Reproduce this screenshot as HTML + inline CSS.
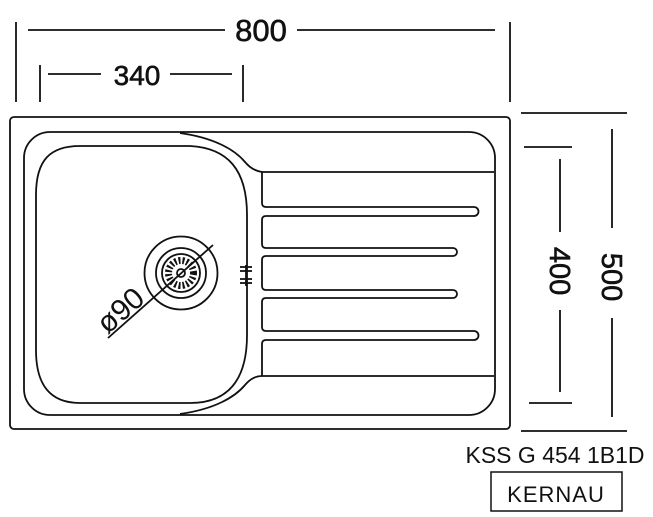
<!DOCTYPE html>
<html><head><style>
html,body{margin:0;padding:0;background:#fff;}
svg{display:block;}
text{font-family:"Liberation Sans",sans-serif;fill:#111;}
</style></head><body>
<svg width="653" height="517" viewBox="0 0 653 517" xmlns="http://www.w3.org/2000/svg">
<g stroke="#111" stroke-width="1.8" fill="none">
<line x1="16" y1="22" x2="16" y2="102"/>
<line x1="510" y1="22" x2="510" y2="102"/>
<line x1="28" y1="30" x2="225" y2="30"/>
<line x1="297" y1="30" x2="495" y2="30"/>
<line x1="40" y1="65" x2="40" y2="102"/>
<line x1="243" y1="65" x2="243" y2="102"/>
<line x1="48" y1="74" x2="101" y2="74"/>
<line x1="170" y1="74" x2="232" y2="74"/>
<line x1="521" y1="113" x2="627" y2="113"/>
<line x1="521" y1="431" x2="627" y2="431"/>
<line x1="524" y1="147" x2="572" y2="147"/>
<line x1="529" y1="403" x2="572" y2="403"/>
<line x1="560" y1="159" x2="560" y2="232"/>
<line x1="560" y1="310" x2="560" y2="392"/>
<line x1="612" y1="129" x2="612" y2="228"/>
<line x1="612" y1="318" x2="612" y2="417"/>
<rect x="10" y="117" width="500" height="312" rx="4"/>
<rect x="24" y="132" width="471" height="283" rx="26"/>
<path d="M180 133 C215 138 235 150 245 162 C250 168 255 171 262 172 L494 172"/>
<path d="M180 414 C215 409 235 397 245 385 C250 379 255 376 262 376 L494 376"/>
<path d="M80 146 L190 146 C228 148 247 170 247 215 L247 335 C247 380 228 403 190 403 L80 403 C50 403 36 385 36 350 L36 195 C36 160 50 146 80 146 Z"/>
<path d="M262 172 L262 203 Q262 207 266 207 L474 207 A4.5 4.5 0 0 1 474 216 L266 216 Q262 216 262 220 L262 244 Q262 248 266 248 L453 248 A4 4 0 0 1 453 256 L266 256 Q262 256 262 260 L262 286 Q262 290 266 290 L453 290 A4 4 0 0 1 453 298 L266 298 Q262 298 262 302 L262 327 Q262 331 266 331 L474 331 A4.5 4.5 0 0 1 474 340 L266 340 Q262 340 262 344 L262 376"/>
<circle cx="181" cy="273" r="36.5"/>
<circle cx="181" cy="273" r="25"/>
<circle cx="181" cy="273" r="19"/>
<circle cx="181" cy="273" r="4"/>
<circle cx="181" cy="273" r="12.5" stroke-width="7" stroke-dasharray="2 2"/>
<line x1="108" y1="338" x2="213" y2="245"/>
<line x1="246" y1="265" x2="246" y2="286"/>
<line x1="240" y1="267" x2="252" y2="267"/>
<line x1="240" y1="271" x2="252" y2="271"/>
<line x1="240" y1="279" x2="252" y2="279"/>
<line x1="240" y1="283" x2="252" y2="283"/>
<rect x="491" y="472" width="131" height="39" stroke-width="1.5"/>
</g>
<g stroke="#111" stroke-width="0.6">
<text x="261" y="41" font-size="31" text-anchor="middle">800</text>
<text x="137" y="85" font-size="28" text-anchor="middle">340</text>
<text transform="translate(560 271) rotate(90)" x="0" y="10" font-size="29" text-anchor="middle">400</text>
<text transform="translate(612 277) rotate(90)" x="0" y="10" font-size="29" text-anchor="middle">500</text>
</g>
<text transform="translate(127 318) rotate(-41)" x="0" y="0" font-size="30" text-anchor="middle">ø90</text>
<text x="555" y="463" font-size="23" text-anchor="middle">KSS G 454 1B1D</text>
<text x="556" y="502" font-size="22" text-anchor="middle" letter-spacing="1">KERNAU</text>
</svg>
</body></html>
